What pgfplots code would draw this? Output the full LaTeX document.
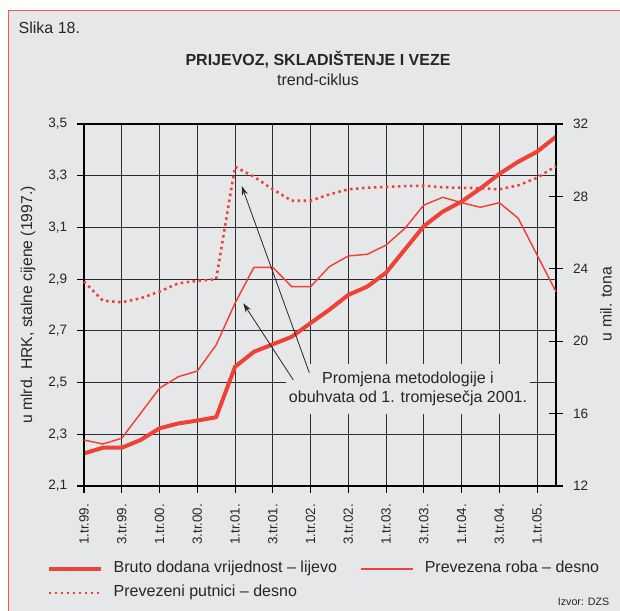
\documentclass[border=0pt]{standalone}
\usepackage{fontspec}
\setmainfont{Liberation Sans}
\usepackage{pgfplots}
\usepackage{pgfplotstable}
\pgfplotsset{compat=1.18}
\usetikzlibrary{arrows.meta}
\definecolor{bg}{RGB}{230,231,233}
\definecolor{lred}{RGB}{239,66,54}
\definecolor{framec}{RGB}{240,90,80}
\definecolor{gridc}{RGB}{45,45,45}
\pgfplotstableread{
i bdv roba putnici
0 2.226 14.54 23.29
1 2.248 14.32 22.24
2 2.248 14.64 22.15
3 2.278 16.02 22.37
4 2.323 17.40 22.74
5 2.342 18.04 23.20
6 2.353 18.35 23.33
7 2.366 19.79 23.42
8 2.561 22.10 29.64
9 2.619 24.08 29.09
10 2.648 24.08 28.39
11 2.677 23.01 27.76
12 2.730 23.01 27.76
13 2.782 24.12 28.11
14 2.839 24.71 28.39
15 2.871 24.80 28.48
16 2.925 25.31 28.52
17 3.015 26.24 28.57
18 3.105 27.52 28.59
19 3.161 27.95 28.50
20 3.200 27.65 28.48
21 3.251 27.40 28.45
22 3.307 27.65 28.39
23 3.354 26.79 28.61
24 3.393 24.76 29.03
25 3.451 22.73 29.68
}\data
\begin{document}
\begin{tikzpicture}
\begin{scope}[x=0.75pt,y=-0.75pt,yshift=457.5pt]
\fill[white] (0,0) rectangle (620,610);
\draw[framec, line width=0.8pt, fill=bg] (8.5,10.5) rectangle (660,660);
\end{scope}
\begin{axis}[
  at={(63pt,93pt)}, anchor=south west, scale only axis,
  width=354pt, height=271.5pt, clip=false,
  xmin=0, xmax=25, ymin=2.1, ymax=3.5,
  axis line style={line width=0.8pt, black},
  xtick={0,2,...,24},
  xticklabels={1.tr.99.,3.tr.99.,1.tr.00.,3.tr.00.,1.tr.01.,3.tr.01.,1.tr.02.,3.tr.02.,1.tr.03.,3.tr.03.,1.tr.04.,3.tr.04.,1.tr.05.},
  ytick={2.1,2.3,2.5,2.7,2.9,3.1,3.3,3.5},
  xtick pos=bottom, ytick pos=left,
  tick align=outside, major tick length=5pt,
  tick style={black, line width=0.8pt},
  xmajorgrids, ymajorgrids,
  grid style={gridc, line width=0.8pt},
  xticklabel shift=5pt, yticklabel shift=4pt,
  x tick label style={rotate=90, anchor=east, font=\fontsize{10}{12}\selectfont, text=black!85},
  y tick label style={font=\fontsize{10.2}{12}\selectfont, text=black!85},
  /pgf/number format/assume math mode=true,
  yticklabel={\pgfmathprintnumber[fixed, fixed zerofill, precision=1, use comma]{\tick}},
]
\addplot[lred, line width=3pt, line join=round] table[x=i, y=bdv] {\data};
\draw[black, line width=1.6pt] (rel axis cs:0,1) -- (rel axis cs:0,0) -- (rel axis cs:1,0);
\end{axis}
\begin{axis}[
  at={(63pt,93pt)}, anchor=south west, scale only axis,
  width=354pt, height=271.5pt, clip=false,
  xmin=0, xmax=25, ymin=12, ymax=32,
  axis x line=none, axis y line*=right,
  y axis line style={line width=1.6pt, black},
  ytick={12,16,20,24,28,32},
  tick align=center, major tick length=10.5pt,
  tick style={black, line width=0.8pt},
  yticklabel shift=4pt,
  y tick label style={font=\fontsize{10.2}{12}\selectfont, text=black!85},
  /pgf/number format/assume math mode=true,
  legend columns=2,
  legend image code/.code={\draw[#1] (0pt,0pt) -- (39pt,0pt);},
  legend style={draw=none, fill=none, at={(-0.088,-0.199)}, anchor=north west,
    font=\fontsize{12}{14}\selectfont, text=black!85,
    nodes={inner sep=0pt, text height=9pt, text depth=3pt},
    row sep=6pt,
    /tikz/every odd column/.append style={column sep=8.25pt},
    /tikz/every even column/.append style={column sep=17.5pt}},
  legend cell align=left,
]
\addlegendimage{lred, line width=3pt}
\addlegendentry{Bruto dodana vrijednost -- lijevo}
\addplot[lred, line width=1.1pt, line join=round] table[x=i, y=roba] {\data};
\addlegendentry{Prevezena roba -- desno}
\addplot[lred, line width=1.9pt, dash pattern=on 1.9pt off 2.6pt] table[x=i, y=putnici] {\data};
\addlegendentry{Prevezeni putnici -- desno}
\end{axis}
\begin{scope}[x=0.75pt,y=-0.75pt,yshift=457.5pt]
\node[fill=bg, align=center, inner xsep=2pt, inner ysep=6pt, font=\fontsize{12}{14.25}\selectfont, text=black!85] at (408,389) {Promjena metodologije i\\obuhvata od 1. tromjesečja 2001.};
\draw[black!85, line width=0.6pt, -{Stealth[length=7pt,width=4.5pt]}] (309.3,372.7) -- (241.7,186);
\draw[black!85, line width=0.6pt, -{Stealth[length=7pt,width=4.5pt]}] (293.3,380) -- (243.3,303.3);
\node[anchor=west, font=\fontsize{12}{14}\selectfont, text=black!85] at (14,28) {Slika 18.};
\node[font=\bfseries\fontsize{12}{14}\selectfont, text=black!85] at (318,60) {PRIJEVOZ, SKLADIŠTENJE I VEZE};
\node[font=\fontsize{12}{14}\selectfont, text=black!85] at (318,80) {trend-ciklus};
\node[rotate=90, font=\fontsize{11.8}{14}\selectfont, text=black!85] at (28,305) {u mlrd. HRK, stalne cijene (1997.)};
\node[rotate=90, font=\fontsize{11.8}{14}\selectfont, text=black!85] at (606,304) {u mil. tona};
\node[anchor=east, font=\fontsize{8}{10}\selectfont, text=black!85] at (614,602) {Izvor: DZS};
\end{scope}
\pgfresetboundingbox
\useasboundingbox (0,0) rectangle (465pt,457.5pt);
\end{tikzpicture}
\end{document}
